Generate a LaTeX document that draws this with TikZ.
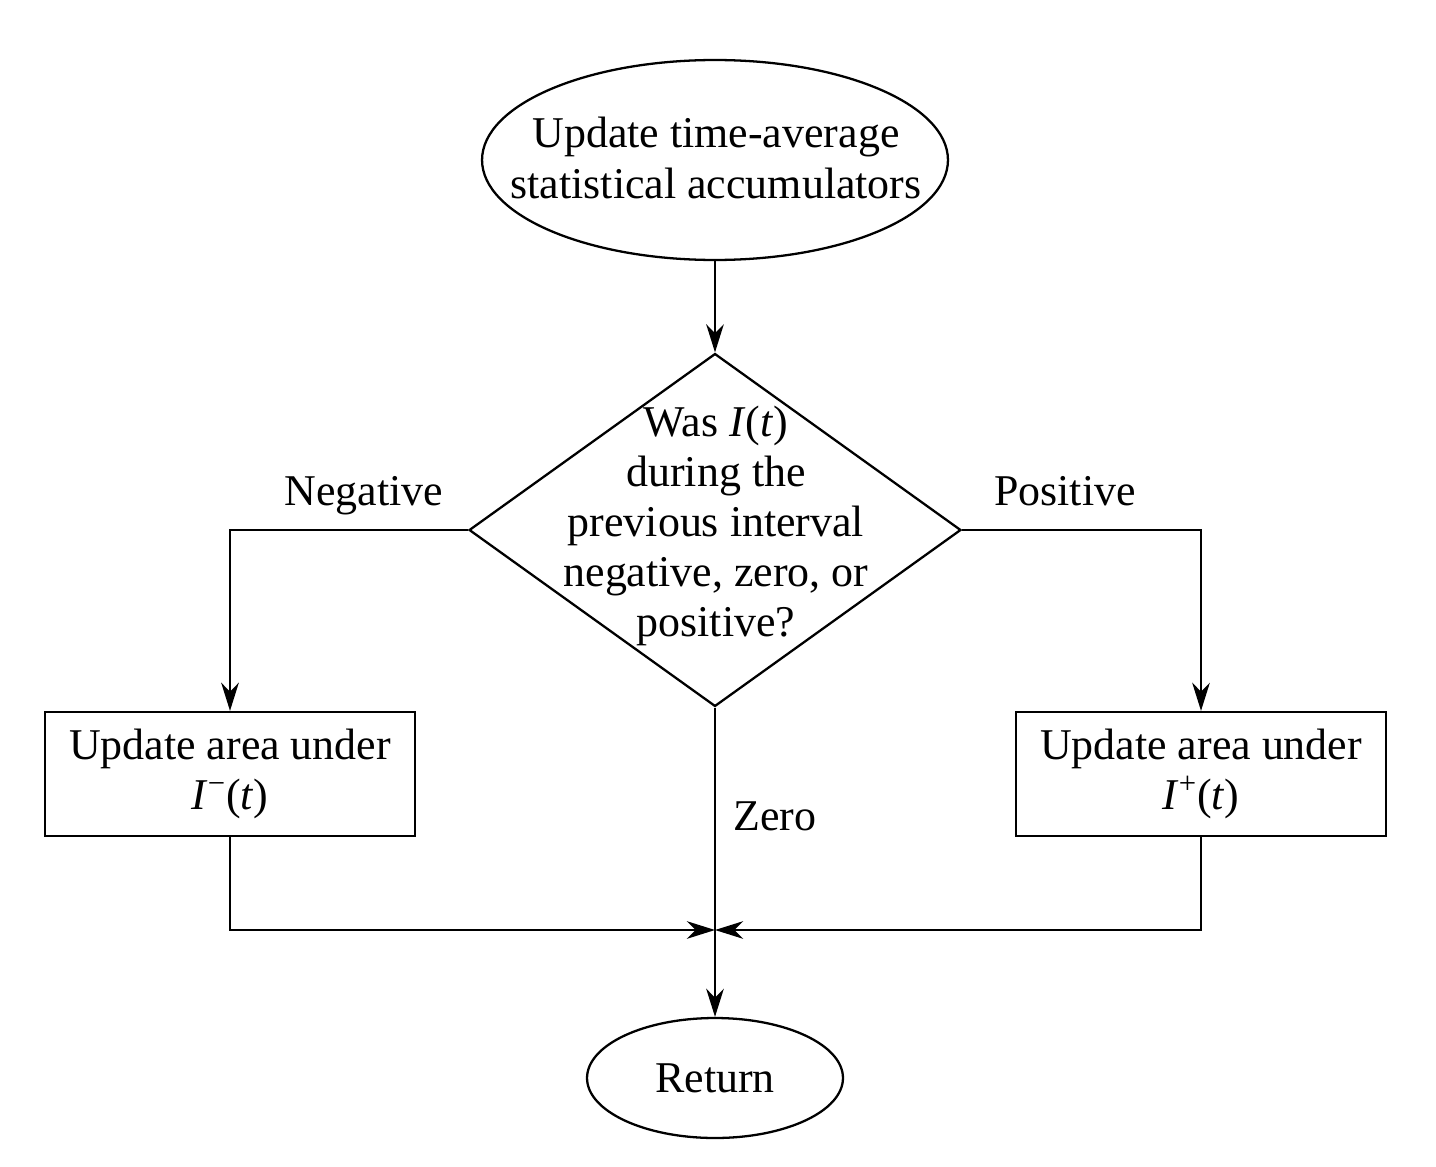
\documentclass[tikz,border=0pt]{standalone}
\usepackage{fontspec}
\setmainfont{Liberation Serif}
\usetikzlibrary{shapes.geometric,arrows.meta}
\begin{document}
\begin{tikzpicture}[x=0.02cm,y=-0.02cm,
 every node/.style={font=\fontsize{25}{28.5}\selectfont},
 line/.style={line width=1.3pt},
 arr/.style={line, -{Stealth[length=16pt,width=10pt,inset=5pt]}},
 oval/.style={ellipse, draw, line width=1.3pt, inner sep=0pt, align=center},
 box/.style={rectangle, draw, line width=1.3pt, minimum width=7.4cm, minimum height=2.48cm, inner sep=0pt, align=center},
]
\useasboundingbox (0,0) rectangle (1436,1166);
\node[oval, minimum width=9.32cm, minimum height=4cm] (start) at (715,160) {};
\node[align=center] (starttext) at (716,158) {Update time-average\\statistical accumulators};
\node[diamond, draw, line width=1.3pt, minimum width=9.84cm, minimum height=7.06cm, inner sep=0pt] (dec) at (715,530) {};
\node[align=center] (dectext) at (716,526) {Was \textit{I}(\textit{t})\\during the\\previous interval\\negative, zero, or\\positive?};
\node[box] (lbox) at (230,774) {Update area under\\\textit{I}\textsuperscript{\char"2212}(\textit{t})};
\node[box] (rbox) at (1201,774) {Update area under\\\textit{I}\textsuperscript{+}(\textit{t})};
\node[oval, minimum width=5.12cm, minimum height=2.4cm] (ret) at (715,1078) {Return};
\node[anchor=base] (neg) at (364,505) {Negative};
\node[anchor=base] (pos) at (1065,505) {Positive};
\node[anchor=base] (zero) at (775,830) {Zero};
\coordinate (m) at (715,930);
\draw[arr] (start.south) -- (dec.north);
\draw[arr] (dec.west) -| (lbox.north);
\draw[arr] (dec.east) -| (rbox.north);
\draw[arr] (dec.south) -- (ret.north);
\draw[arr] (lbox.south) |- (m);
\draw[arr] (rbox.south) |- (m);
\end{tikzpicture}
\end{document}
